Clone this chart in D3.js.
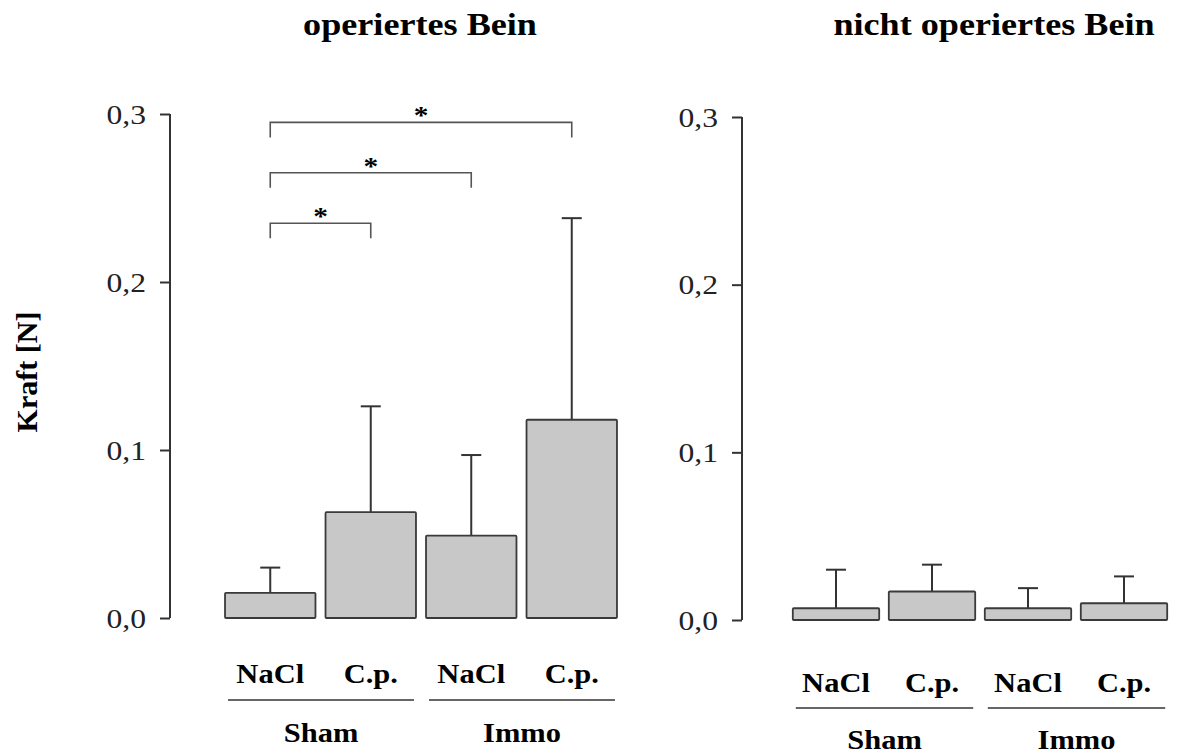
<!DOCTYPE html>
<html>
<head>
<meta charset="utf-8">
<script src="https://cdn.jsdelivr.net/npm/d3@7/dist/d3.min.js"></script>
<style>
  html, body { margin: 0; padding: 0; background: #fff; }
  svg { display: block; }
</style>
</head>
<body>
<div id="chart"></div>
<script>
// data
var groups = ["Sham", "Immo"];
var treatments = ["NaCl", "C.p."];
var categories = ["Sham NaCl", "Sham C.p.", "Immo NaCl", "Immo C.p."];
var operiertMean = [0.015, 0.063, 0.049, 0.118];
var operiertSD = [0.015, 0.063, 0.048, 0.120];
var nichtOperiertMean = [0.007, 0.017, 0.007, 0.010];
var nichtOperiertSD = [0.023, 0.016, 0.012, 0.016];
var yTicks = [0, 0.1, 0.2, 0.3];
// significance brackets (from category index, to category index, height)
var sigFrom = [0, 0, 0];
var sigTo = [3, 2, 1];
var sigLevel = [0.295, 0.265, 0.235];

var W = 1196, H = 756;
var SX = 1.13; // the original figure is slightly stretched horizontally

var svg = d3.select("#chart").append("svg")
  .attr("width", W)
  .attr("height", H)
  .style("font-family", "'Liberation Serif', 'Times New Roman', serif");

var de = d3.formatLocale({decimal: ",", thousands: ".", grouping: [3], currency: ["", " €"]});
var fmt = de.format(".1f");

function stretchText(sel, x, y) {
  sel.attr("transform", "translate(" + x + "," + y + ") scale(" + SX + ",1)");
  return sel;
}

var panels = [
  {title: "operiertes Bein", titleX: 420, mean: operiertMean, sd: operiertSD,
   axisX: 170, y0: 618, y1: 114, xRange: [220, 622], labelY: 683, lineY: 700, groupY: 742, sig: true},
  {title: "nicht operiertes Bein", titleX: 994, mean: nichtOperiertMean, sd: nichtOperiertSD,
   axisX: 742, y0: 620, y1: 117, xRange: [788, 1172], labelY: 692, lineY: 708, groupY: 749, sig: false}
];

panels.forEach(function(p, pi) {
  var g = svg.append("g");

  var y = d3.scaleLinear().domain([0, 0.3]).range([p.y0, p.y1]);
  var x = d3.scaleBand().domain(categories).range(p.xRange)
    .paddingInner(0.1).paddingOuter(0.05);

  // title
  stretchText(g.append("text"), p.titleX, 35)
    .attr("text-anchor", "middle")
    .style("font-size", "32px")
    .style("font-weight", "bold")
    .text(p.title);

  // y axis
  var axis = g.append("g")
    .attr("transform", "translate(" + p.axisX + ",0)")
    .call(d3.axisLeft(y).tickValues(yTicks).tickSize(10).tickPadding(14).tickFormat(fmt));
  axis.select(".domain").attr("stroke", "#333").attr("stroke-width", 2)
    .attr("d", "M0," + y(0) + "V" + y(0.3));
  axis.selectAll(".tick line").attr("stroke", "#333").attr("stroke-width", 2);
  axis.selectAll(".tick text")
    .attr("fill", "#222")
    .style("font-family", "'Liberation Serif', 'Times New Roman', serif")
    .style("font-size", "28px")
    .attr("dy", "0.33em")
    .attr("transform", "scale(" + SX + ",1)")
    .attr("x", -24 / SX);

  // error bars (upper only)
  var eb = g.selectAll(".err").data(categories).enter().append("g").attr("class", "err");
  eb.append("line")
    .attr("x1", function(d) { return x(d) + x.bandwidth() / 2; })
    .attr("x2", function(d) { return x(d) + x.bandwidth() / 2; })
    .attr("y1", function(d, i) { return y(p.mean[i]); })
    .attr("y2", function(d, i) { return y(p.mean[i] + p.sd[i]); })
    .attr("stroke", "#333").attr("stroke-width", 2);
  eb.append("line")
    .attr("x1", function(d) { return x(d) + x.bandwidth() / 2 - 10; })
    .attr("x2", function(d) { return x(d) + x.bandwidth() / 2 + 10; })
    .attr("y1", function(d, i) { return y(p.mean[i] + p.sd[i]); })
    .attr("y2", function(d, i) { return y(p.mean[i] + p.sd[i]); })
    .attr("stroke", "#333").attr("stroke-width", 2);

  // bars
  g.selectAll(".bar").data(categories).enter().append("rect")
    .attr("class", "bar")
    .attr("x", function(d) { return x(d); })
    .attr("width", x.bandwidth())
    .attr("y", function(d, i) { return y(p.mean[i]); })
    .attr("height", function(d, i) { return y(0) - y(p.mean[i]); })
    .attr("rx", 1)
    .attr("fill", "#c8c8c8")
    .attr("stroke", "#3a3a3a")
    .attr("stroke-width", 1.8);

  // treatment labels
  categories.forEach(function(c, i) {
    stretchText(g.append("text"), x(c) + x.bandwidth() / 2, p.labelY)
      .attr("text-anchor", "middle")
      .style("font-size", "27px")
      .style("font-weight", "bold")
      .text(treatments[i % 2]);
  });

  // group lines + labels
  groups.forEach(function(gr, gi) {
    var a = categories[gi * 2], b = categories[gi * 2 + 1];
    var xa = x(a) + 3, xb = x(b) + x.bandwidth() - 2;
    g.append("line")
      .attr("x1", xa).attr("x2", xb)
      .attr("y1", p.lineY).attr("y2", p.lineY)
      .attr("stroke", "#333").attr("stroke-width", 1.6);
    stretchText(g.append("text"), (xa + xb) / 2, p.groupY)
      .attr("text-anchor", "middle")
      .style("font-size", "27px")
      .style("font-weight", "bold")
      .text(gr);
  });

  // significance brackets
  if (p.sig) {
    sigLevel.forEach(function(lv, k) {
      var xa = x(categories[sigFrom[k]]) + x.bandwidth() / 2;
      var xb = x(categories[sigTo[k]]) + x.bandwidth() / 2;
      var yy = y(lv);
      g.append("path")
        .attr("d", "M" + xa + "," + (yy + 15) + "V" + yy + "H" + xb + "V" + (yy + 15))
        .attr("fill", "none")
        .attr("stroke", "#555")
        .attr("stroke-width", 1.6);
      stretchText(g.append("text"), (xa + xb) / 2, yy + 2)
        .attr("text-anchor", "middle")
        .style("font-size", "26px")
        .style("font-weight", "bold")
        .text("*");
    });
  }
});

// y axis title
svg.append("text")
  .attr("transform", "translate(37,372) rotate(-90)")
  .attr("text-anchor", "middle")
  .style("font-size", "30px")
  .style("font-weight", "bold")
  .text("Kraft [N]");
</script>
</body>
</html>
